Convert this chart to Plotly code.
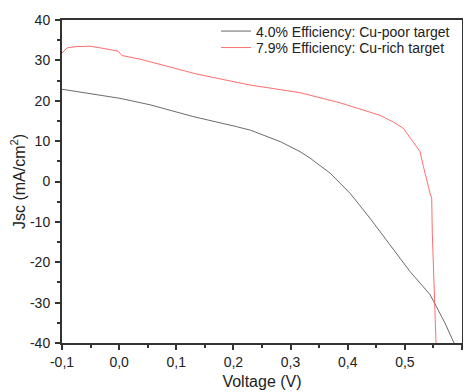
import plotly.graph_objects as go

# Cu-poor target (4.0 %)
v_poor = [-0.1, 0.0015, 0.054, 0.129, 0.205, 0.217, 0.23, 0.2815, 0.3165, 0.334, 0.369, 0.404,
          0.439, 0.474, 0.509, 0.544, 0.555, 0.57, 0.586]
j_poor = [22.85, 20.6, 19.0, 16.1, 13.6, 13.2, 12.7, 9.9, 7.4, 5.8, 2.1, -2.9,
          -9.1, -15.7, -22.3, -28.0, -30.8, -35.0, -40.0]

# Cu-rich target (7.9 %)
v_rich = [-0.1, -0.091, -0.077, -0.051, -0.033, -0.016, -0.002, 0.005, 0.0365, 0.0715, 0.1065, 0.136,
          0.229, 0.3165, 0.3865, 0.4565, 0.479, 0.497, 0.512, 0.518, 0.521, 0.5265, 0.5325, 0.538,
          0.544, 0.547, 0.548, 0.5516, 0.5545]
j_rich = [31.8, 33.1, 33.4, 33.5, 33.1, 32.6, 32.3, 31.2, 30.3, 29.0, 27.6, 26.6,
          23.9, 22.0, 19.5, 16.4, 14.8, 13.2, 10.3, 9.1, 8.6, 7.4, 3.7, 0.4,
          -2.9, -4.1, -12.7, -27.6, -40.0]

x_ticks = [-0.1, 0.0, 0.1, 0.2, 0.3, 0.4, 0.5, 0.6]
x_ticktext = ["-0,1", "0,0", "0,1", "0,2", "0,3", "0,4", "0,5", "0,6"]
y_ticks = [-40, -30, -20, -10, 0, 10, 20, 30, 40]
y_ticktext = ["-40", "-30", "-20", "-10", "0", "10", "20", "30", "40"]

FONT = "Liberation Sans, Arial, sans-serif"

fig = go.Figure()
fig.add_trace(go.Scatter(x=v_poor, y=j_poor, mode="lines", line=dict(color="#5a5a5a", width=0.9),
                         name="4.0% Efficiency: Cu-poor target", legend="legend"))
fig.add_trace(go.Scatter(x=v_rich, y=j_rich, mode="lines", line=dict(color="#ff5c5c", width=0.9),
                         name="7.9% Efficiency: Cu-rich target", legend="legend2"))

axis_common = dict(showgrid=False, zeroline=False, showline=True, linecolor="#333333", linewidth=2,
                   mirror=True, ticks="outside", ticklen=5, tickwidth=1.5, tickcolor="#333333",
                   automargin=False,
                   tickfont=dict(family=FONT, size=14, color="#222222"))

fig.update_xaxes(range=[-0.1, 0.6], tickvals=x_ticks, ticktext=x_ticktext,
                 minor=dict(ticks="outside", ticklen=3, dtick=0.05, tick0=-0.1, tickcolor="#333333", tickwidth=1.5),
                 title=dict(text="Voltage (V)", font=dict(family=FONT, size=16, color="#222222"), standoff=7),
                 **axis_common)
fig.update_yaxes(range=[-40, 40], tickvals=y_ticks, ticktext=y_ticktext,
                 minor=dict(ticks="outside", ticklen=3, dtick=5, tick0=0, tickcolor="#333333", tickwidth=1.5),
                 title=dict(text="Jsc (mA/cm<sup>2</sup>)", font=dict(family=FONT, size=16, color="#222222"),
                            standoff=3),
                 ticklabelstandoff=2,
                 **axis_common)

legend_style = dict(xanchor="left", yanchor="top", bgcolor="rgba(0,0,0,0)",
                    font=dict(family=FONT, size=14, color="#222222"), itemwidth=30)

# page body has an 8px default margin, so the figure is 8px smaller than the window
fig.update_layout(
    width=463, height=384,
    margin=dict(l=54, r=9, t=12, b=49, autoexpand=False),
    paper_bgcolor="white", plot_bgcolor="white",
    legend=dict(x=0.385, y=1.014, **legend_style),
    legend2=dict(x=0.385, y=0.963, **legend_style),
    showlegend=True,
)

fig.write_html("out.html")
